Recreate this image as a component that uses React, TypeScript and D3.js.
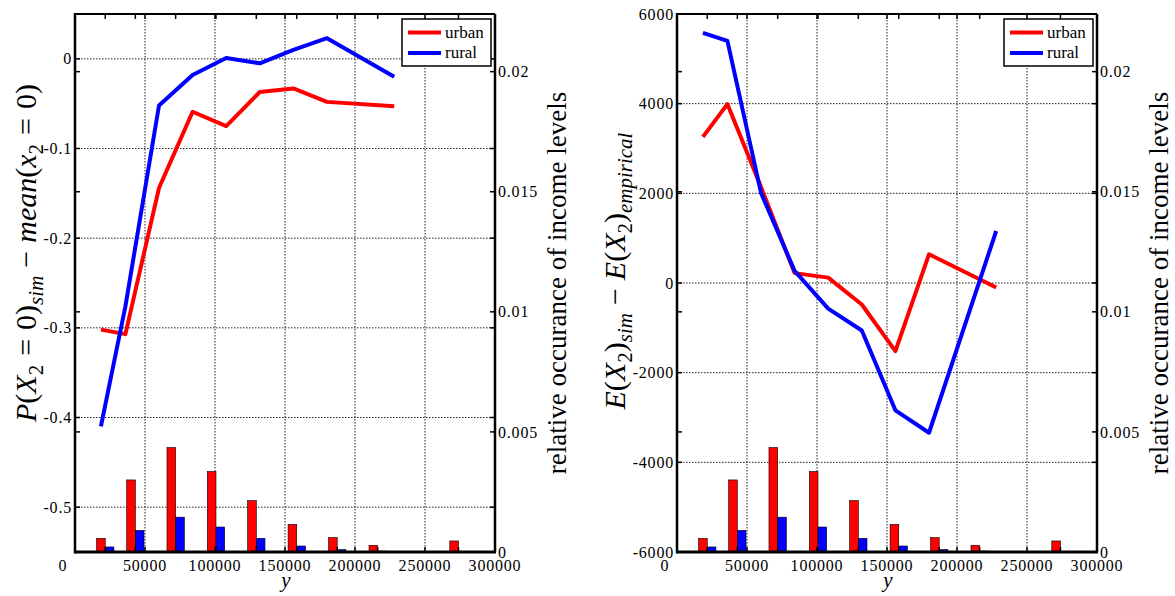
import { useEffect, useRef } from 'react'
import * as d3 from 'd3'

const W = 1175
const H = 596
const FONT = '"Liberation Serif", "DejaVu Serif", serif'

// income grid of the simulated curves
const incomeLevels = [18500, 36000, 60000, 84000, 108000, 132000, 156000, 180000, 228000]

// P(X2=0)_sim - mean(x2=0)
const probUrban = [-0.302, -0.307, -0.144, -0.059, -0.075, -0.037, -0.033, -0.048, -0.053]
const probRural = [-0.41, -0.276, -0.052, -0.018, 0.001, -0.005, 0.01, 0.023, -0.02]

// E(X2)_sim - E(X2)_empirical
const expUrban = [3260, 3990, 2140, 220, 120, -480, -1520, 640, -100]
const expRural = [5580, 5400, 2010, 270, -570, -1060, -2840, -3340, 1160]

// histogram of observed incomes (right axis)
const binCenters = [21600, 43100, 71900, 100700, 129500, 158400, 187300, 216200, 273900]
const occUrban = [0.00057, 0.003, 0.00435, 0.00335, 0.00214, 0.00115, 0.0006, 0.00028, 0.00046]
const occRural = [0.00021, 0.0009, 0.00145, 0.00104, 0.00057, 0.00025, 0.0001, 0.00004, 0.00003]

const xTicks = [0, 50000, 100000, 150000, 200000, 250000, 300000]
const occTicks = [0, 0.005, 0.01, 0.015, 0.02]
const probTicks = [-0.5, -0.4, -0.3, -0.2, -0.1, 0]
const expTicks = [-6000, -4000, -2000, 0, 2000, 4000, 6000]

const seriesNames = ['urban', 'rural']
const seriesColors = ['#ff0000', '#0000ff']

const BAR_W = 6200 // bar width in income units
const TOP = 14
const BOTTOM = 552
const PW = 420

// math label pieces: i = italic, sub = subscript, gap = space before (px)
type Piece = { t: string; i?: boolean; sub?: boolean; gap?: number }

const probLabel: Piece[] = [
  { t: 'P', i: true }, { t: '(' }, { t: 'X', i: true }, { t: '2', sub: true },
  { t: '=', gap: 9 }, { t: '0)', gap: 9 }, { t: 'sim', i: true, sub: true },
  { t: '−', gap: 8 }, { t: 'mean', i: true, gap: 8 }, { t: '(' },
  { t: 'x', i: true }, { t: '2', sub: true }, { t: '=', gap: 9 }, { t: '0)', gap: 9 },
]
const expLabel: Piece[] = [
  { t: 'E', i: true }, { t: '(' }, { t: 'X', i: true }, { t: '2', sub: true }, { t: ')' },
  { t: 'sim', i: true, sub: true }, { t: '−', gap: 8 }, { t: 'E', i: true, gap: 8 }, { t: '(' },
  { t: 'X', i: true }, { t: '2', sub: true }, { t: ')' }, { t: 'empirical', i: true, sub: true },
]

function drawPanel(svg, opts) {
  const { left, yDomain, yTicks, yFmt, urban, rural, label, labelX, labelY } = opts
  const right = left + PW
  const g = svg.append('g')

  const x = d3.scaleLinear().domain([0, 300000]).range([left, right])
  const y = d3.scaleLinear().domain(yDomain).range([BOTTOM, TOP])
  const yOcc = d3.scaleLinear().domain([0, 0.0224]).range([BOTTOM, TOP])

  // grid
  const gridY = yTicks.filter((d) => d > yDomain[0] && d < yDomain[1])
  g.append('g').selectAll('line').data(xTicks.slice(1, -1)).join('line')
    .attr('x1', (d) => x(d)).attr('x2', (d) => x(d))
    .attr('y1', TOP).attr('y2', BOTTOM)
    .attr('stroke', '#222').attr('stroke-width', 1).attr('stroke-dasharray', '1.5,1.5')
  g.append('g').selectAll('line').data(gridY).join('line')
    .attr('x1', left).attr('x2', right)
    .attr('y1', (d) => y(d)).attr('y2', (d) => y(d))
    .attr('stroke', '#222').attr('stroke-width', 1).attr('stroke-dasharray', '1.5,1.5')

  // bars
  const bars = g.append('g')
  ;[occUrban, occRural].forEach((vals, k) => {
    bars.selectAll(`rect.s${k}`).data(vals).join('rect')
      .attr('class', `s${k}`)
      .attr('x', (_, i) => x(binCenters[i] - BAR_W + k * BAR_W))
      .attr('width', x(BAR_W) - x(0))
      .attr('y', (d) => yOcc(d))
      .attr('height', (d) => BOTTOM - yOcc(d))
      .attr('fill', seriesColors[k])
      .attr('stroke', '#000').attr('stroke-width', 0.6)
  })

  // lines
  const line = d3.line<number>().x((_, i) => x(incomeLevels[i])).y((d) => y(d))
  ;[urban, rural].forEach((vals, k) => {
    g.append('path').attr('d', line(vals))
      .attr('fill', 'none').attr('stroke', seriesColors[k])
      .attr('stroke-width', 4).attr('stroke-linejoin', 'round')
  })

  // frame
  g.append('line').attr('x1', left).attr('x2', right).attr('y1', TOP).attr('y2', TOP).attr('stroke', '#000').attr('stroke-width', 2)
  g.append('line').attr('x1', right).attr('x2', right).attr('y1', TOP).attr('y2', BOTTOM).attr('stroke', '#000').attr('stroke-width', 2.5)
  g.append('line').attr('x1', left).attr('x2', left).attr('y1', TOP - 1).attr('y2', BOTTOM + 1.5).attr('stroke', '#000').attr('stroke-width', 2.5)
  g.append('line').attr('x1', left).attr('x2', right + 1).attr('y1', BOTTOM).attr('y2', BOTTOM).attr('stroke', '#000').attr('stroke-width', 3)

  // inward ticks on all four sides
  const TL = 5
  const tk = g.append('g').attr('stroke', '#000').attr('stroke-width', 1.5)
  xTicks.concat(binCenters).forEach((d) => {
    tk.append('line').attr('x1', x(d)).attr('x2', x(d)).attr('y1', TOP).attr('y2', TOP + TL)
    tk.append('line').attr('x1', x(d)).attr('x2', x(d)).attr('y1', BOTTOM).attr('y2', BOTTOM - TL)
  })
  yTicks.map((d) => y(d)).concat(occTicks.map((d) => yOcc(d))).forEach((py) => {
    tk.append('line').attr('x1', left).attr('x2', left + TL).attr('y1', py).attr('y2', py)
    tk.append('line').attr('x1', right).attr('x2', right - TL).attr('y1', py).attr('y2', py)
  })

  // tick labels
  const txt = g.append('g').attr('font-family', FONT).attr('font-size', 16)
    .attr('letter-spacing', 0.8).attr('fill', '#000')
  txt.selectAll('text.x').data(xTicks).join('text').attr('class', 'x')
    .attr('x', (d) => x(d) - (d === 0 ? 12 : 0)).attr('y', 571)
    .attr('text-anchor', 'middle').text((d) => String(d))
  txt.selectAll('text.yl').data(yTicks).join('text').attr('class', 'yl')
    .attr('x', left - 3).attr('y', (d) => y(d)).attr('dy', '0.35em')
    .attr('text-anchor', 'end').text(yFmt)
  txt.selectAll('text.yr').data(occTicks).join('text').attr('class', 'yr')
    .attr('x', right + 3).attr('y', (d) => yOcc(d)).attr('dy', '0.35em')
    .attr('text-anchor', 'start').text((d) => String(d))

  // axis labels
  svg.append('text').attr('x', (left + right) / 2 + 1).attr('y', 587)
    .attr('font-family', FONT).attr('font-size', 21).attr('font-style', 'italic')
    .attr('text-anchor', 'middle').text('y')

  svg.append('text')
    .attr('transform', `translate(${right + 71},${(TOP + BOTTOM) / 2}) rotate(-90)`)
    .attr('font-family', FONT).attr('font-size', 27)
    .attr('text-anchor', 'middle')
    .text('relative occurance of income levels')

  const yl = svg.append('text')
    .attr('transform', `translate(${labelX},${labelY}) rotate(-90)`)
    .attr('font-family', FONT).attr('font-size', 30)
    .attr('text-anchor', 'middle')
  let shift = 0
  label.forEach((p: Piece) => {
    const ts = yl.append('tspan').text(p.t)
    if (p.i) ts.attr('font-style', 'italic')
    const want = p.sub ? 7 : 0
    if (want !== shift) ts.attr('dy', want - shift)
    shift = want
    if (p.sub) ts.attr('font-size', 21)
    if (p.gap) ts.attr('dx', p.gap)
  })

  // legend
  const lg = svg.append('g').attr('transform', `translate(${right - 93},19)`)
  lg.append('rect').attr('width', 89).attr('height', 47)
    .attr('fill', '#fff').attr('stroke', '#000').attr('stroke-width', 1.5)
  seriesNames.forEach((name, k) => {
    const ly = 13.5 + k * 20.5
    lg.append('line').attr('x1', 6).attr('x2', 39).attr('y1', ly).attr('y2', ly)
      .attr('stroke', seriesColors[k]).attr('stroke-width', 4)
    lg.append('text').attr('x', 43).attr('y', ly).attr('dy', '0.32em')
      .attr('font-family', FONT).attr('font-size', 17).text(name)
  })
}

export default function App() {
  const svgRef = useRef(null)

  useEffect(() => {
    if (!svgRef.current) return
    const svg = d3.select(svgRef.current)
    svg.selectAll('*').remove()
    svg.append('rect').attr('width', W).attr('height', H).attr('fill', '#fff')

    drawPanel(svg, {
      left: 75, yDomain: [-0.55, 0.05], yTicks: probTicks,
      yFmt: (d) => (d === 0 ? '0' : d3.format('.1f')(d).replace('−', '-')),
      urban: probUrban, rural: probRural, label: probLabel,
      labelX: 36, labelY: 253,
    })
    drawPanel(svg, {
      left: 677, yDomain: [-6000, 6000], yTicks: expTicks,
      yFmt: (d) => String(d),
      urban: expUrban, rural: expRural, label: expLabel,
      labelX: 625, labelY: 271,
    })
  }, [])

  return (
    <svg ref={svgRef} width={W} height={H}
      style={{ position: 'absolute', left: 0, top: 0, display: 'block' }} />
  )
}
